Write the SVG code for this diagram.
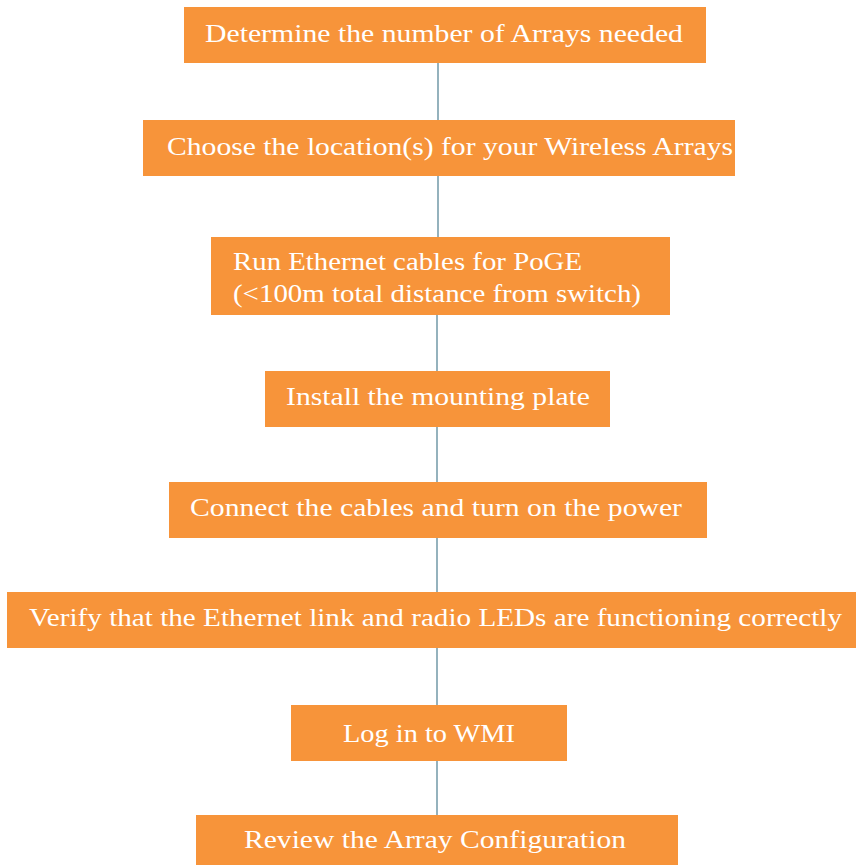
<svg xmlns="http://www.w3.org/2000/svg" width="856" height="865" viewBox="0 0 856 865">
<style>
  .box { fill: #F7943A; }
  .lbl { font-family: "Liberation Serif", "DejaVu Serif", serif; font-size: 26px; fill: #FFFFFF; }
  .conn line { stroke: #7A9FAD; stroke-width: 1.6; }
</style>
<rect x="0" y="0" width="856" height="865" fill="#FFFFFF"/>
<g class="conn" id="connectors">
  <line x1="438" y1="63" x2="438" y2="120"/>
  <line x1="438" y1="176" x2="438" y2="237"/>
  <line x1="437" y1="315" x2="437" y2="371"/>
  <line x1="437" y1="427" x2="437" y2="482"/>
  <line x1="437" y1="538" x2="437" y2="592"/>
  <line x1="437" y1="648" x2="437" y2="705"/>
  <line x1="437" y1="761" x2="437" y2="815"/>
</g>
<g id="node1">
  <rect class="box" x="184" y="7" width="522" height="56"/>
  <text class="lbl" x="205" y="42" textLength="478" lengthAdjust="spacingAndGlyphs">Determine the number of Arrays needed</text>
</g>
<g id="node2">
  <rect class="box" x="143" y="120" width="592" height="56"/>
  <text class="lbl" x="167" y="155" textLength="566" lengthAdjust="spacingAndGlyphs">Choose the location(s) for your Wireless Arrays</text>
</g>
<g id="node3">
  <rect class="box" x="211" y="237" width="459" height="78"/>
  <text class="lbl" x="233" y="269.5" textLength="349" lengthAdjust="spacingAndGlyphs">Run Ethernet cables for PoGE</text>
  <text class="lbl" x="233" y="301.5" textLength="408" lengthAdjust="spacingAndGlyphs">(&lt;100m total distance from switch)</text>
</g>
<g id="node4">
  <rect class="box" x="265" y="371" width="345" height="56"/>
  <text class="lbl" x="286" y="405" textLength="304" lengthAdjust="spacingAndGlyphs">Install the mounting plate</text>
</g>
<g id="node5">
  <rect class="box" x="169" y="482" width="538" height="56"/>
  <text class="lbl" x="190" y="516" textLength="492" lengthAdjust="spacingAndGlyphs">Connect the cables and turn on the power</text>
</g>
<g id="node6">
  <rect class="box" x="7" y="592" width="849" height="56"/>
  <text class="lbl" x="29" y="626" textLength="813" lengthAdjust="spacingAndGlyphs">Verify that the Ethernet link and radio LEDs are functioning correctly</text>
</g>
<g id="node7">
  <rect class="box" x="291" y="705" width="276" height="56"/>
  <text class="lbl" x="343" y="741.5" textLength="172" lengthAdjust="spacingAndGlyphs">Log in to WMI</text>
</g>
<g id="node8">
  <rect class="box" x="196" y="815" width="482" height="50"/>
  <text class="lbl" x="244" y="848" textLength="382" lengthAdjust="spacingAndGlyphs">Review the Array Configuration</text>
</g>
</svg>
